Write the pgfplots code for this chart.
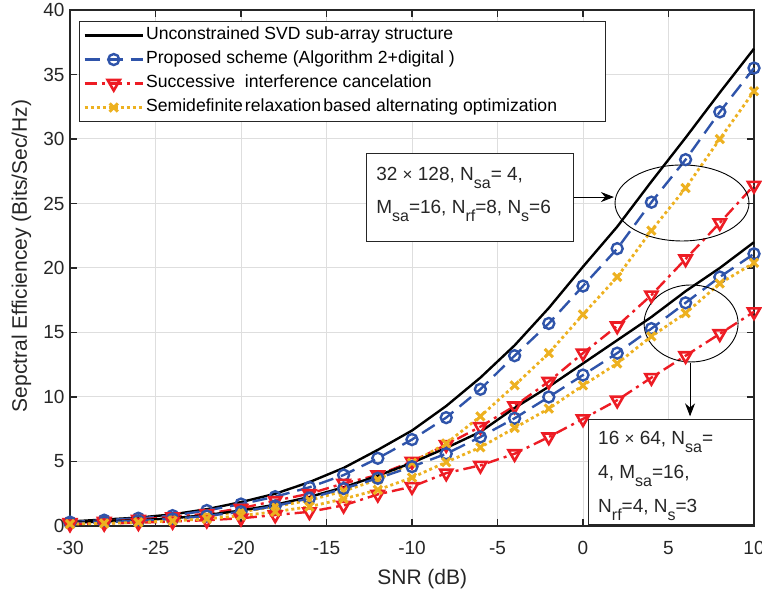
\documentclass[border=0pt]{standalone}
\usepackage{fontspec}
\setmainfont{Liberation Sans}
\usepackage{pgfplots}
\usepackage{pgfplotstable}
\pgfplotsset{compat=1.18}
\usetikzlibrary{arrows.meta}

\definecolor{mblue}{RGB}{47,84,170}
\definecolor{mred}{RGB}{237,28,36}
\definecolor{myellow}{RGB}{237,177,32}
\definecolor{axgray}{RGB}{38,38,38}
\definecolor{gridgray}{RGB}{222,222,222}

% subscript in annotation text
\newcommand{\sub}[1]{\raisebox{-8pt}{\fontsize{16}{16}\selectfont #1}}

% spectral efficiency vs SNR; A = 32x128 system, B = 16x64 system
\pgfplotstableread{
snr  svdA  propA sicA sdrA svdB propB sicB sdrB
-30  0.35  0.30  0.25 0.20 0.25 0.22 0.15 0.15
-28  0.50  0.45  0.35 0.30 0.35 0.30 0.20 0.20
-26  0.65  0.60  0.50 0.40 0.45 0.40 0.25 0.28
-24  0.90  0.80  0.70 0.55 0.60 0.55 0.35 0.40
-22  1.30  1.20  0.95 0.80 0.85 0.78 0.45 0.55
-20  1.85  1.70  1.37 1.10 1.20 1.10 0.60 0.80
-18  2.50  2.27  1.96 1.50 1.65 1.55 0.85 1.10
-16  3.40  3.00  2.50 2.00 2.25 2.15 1.10 1.50
-14  4.50  3.95  3.30 2.70 3.00 2.90 1.60 2.10
-12  5.90  5.25  3.95 3.60 3.90 3.70 2.45 2.80
-10  7.40  6.70  5.00 4.90 4.90 4.60 3.05 3.75
-8   9.30  8.40  6.30 6.40 6.05 5.60 4.10 4.95
-6   11.5  10.6  7.70 8.50 7.30 6.90 4.70 6.10
-4   14.0  13.2  9.30 10.9 9.15 8.35 5.60 7.60
-2   16.9  15.7  11.2 13.4 10.8 10.0 6.90 9.10
0    20.1  18.6  13.4 16.4 12.6 11.7 8.30 10.9
2    23.2  21.5  15.5 19.3 14.4 13.4 9.75 12.6
4    26.7  25.1  17.9 22.9 16.2 15.3 11.5 14.7
6    30.1  28.4  20.7 26.2 18.2 17.3 13.2 16.5
8    33.6  32.1  23.5 30.0 20.0 19.3 14.9 18.8
10   37.0  35.5  26.4 33.7 22.0 21.1 16.6 20.4
}\setable

\pgfplotsset{
  svdstyle/.style={black, line width=2.4pt, solid, mark=none},
  propstyle/.style={mblue, line width=2.4pt, dash pattern=on 15pt off 8pt,
    mark=o, mark size=5.5pt, mark options={solid, line width=2.4pt}},
  sicstyle/.style={mred, line width=2.4pt, dash pattern=on 12pt off 5pt on 3pt off 5pt,
    mark=triangle, mark size=7pt, mark options={solid, rotate=180, line width=2.6pt}},
  sdrstyle/.style={myellow, line width=2.8pt, dash pattern=on 3pt off 3pt,
    mark=x, mark size=5.8pt, mark options={solid, line width=3pt}},
}

\begin{document}
\begin{tikzpicture}
\begin{axis}[
  name=ax,
  scale only axis,
  width=684pt, height=516pt,
  xmin=-30, xmax=10, ymin=0, ymax=40,
  xtick={-30,-25,...,10}, ytick={0,5,...,40},
  tick align=inside, major tick length=7pt,
  axis line style={axgray, line width=1.1pt},
  tick style={axgray, line width=1.1pt},
  grid=major,
  major grid style={gridgray, line width=1pt},
  clip=false,
  /pgf/number format/assume math mode=true,
  ticklabel style={font=\fontsize{19}{22}\selectfont, text=axgray},
  xticklabel style={anchor=base, yshift=-29pt},
  yticklabel style={xshift=-2pt},
  xlabel={SNR (dB)},
  ylabel={Sepctral Efficiencey (Bits/Sec/Hz)},
  every axis x label/.style={at={(rel axis cs:0.515,-0.1143)}, anchor=base,
    font=\fontsize{21}{24}\selectfont, text=axgray},
  every axis y label/.style={at={(rel axis cs:-0.0629,0.523)}, rotate=90, anchor=base,
    font=\fontsize{21}{24}\selectfont, text=axgray},
  legend cell align=left,
  legend image code/.code={%
    \draw[mark repeat=2, mark phase=2, #1] plot coordinates {(0pt,0pt) (29pt,0pt) (58pt,0pt)};},
  legend style={
    at={(rel axis cs:0.013,0.978)}, anchor=north west,
    draw=axgray, line width=0.9pt, fill=white,
    font=\fontsize{17.6}{19}\selectfont, text=black,
    inner sep=4pt, row sep=4.5pt,
    nodes={inner sep=2pt, text height=12pt, text depth=3.5pt},
  },
]
\addplot[svdstyle]  table[x=snr, y=svdA]  {\setable};
\addplot[propstyle] table[x=snr, y=propA] {\setable};
\addplot[sicstyle]  table[x=snr, y=sicA]  {\setable};
\addplot[sdrstyle]  table[x=snr, y=sdrA]  {\setable};
\addplot[svdstyle,  forget plot] table[x=snr, y=svdB]  {\setable};
\addplot[propstyle, forget plot] table[x=snr, y=propB] {\setable};
\addplot[sicstyle,  forget plot] table[x=snr, y=sicB]  {\setable};
\addplot[sdrstyle,  forget plot] table[x=snr, y=sdrB]  {\setable};
\legend{Unconstrained SVD sub-array structure,
        Proposed scheme (Algorithm 2+digital ),
        Successive\ \ interference cancelation,
        Semidefinite\hspace{2pt}relaxation\hspace{2pt}based alternating optimization\rule{42pt}{0pt}}

% 32 x 128 annotation
\draw[black, line width=0.9pt] (axis cs:5.79,25.04) ellipse [x radius=67pt, y radius=38pt];
\draw[axgray, line width=0.9pt, fill=white] (axis cs:-12.69,28.91) rectangle (axis cs:-0.53,22.09);
\draw[black, line width=0.9pt, -{Stealth[length=13pt, width=10pt]}] (axis cs:-0.53,25.5) -- (axis cs:1.81,25.5);
\node[anchor=base west, inner sep=0pt, font=\fontsize{19}{22}\selectfont, text=axgray]
  at (axis cs:-12.1,26.82) {32 {\fontsize{17}{17}\selectfont×} 128, N\sub{sa}= 4,};
\node[anchor=base west, inner sep=0pt, font=\fontsize{19}{22}\selectfont, text=axgray]
  at (axis cs:-12.1,24.26) {M\sub{sa}=16, N\sub{rf}=8, N\sub{s}=6};

% 16 x 64 annotation
\draw[black, line width=0.9pt] (axis cs:6.32,15.7) ellipse [x radius=47pt, y radius=38.5pt];
\draw[black, line width=0.9pt, -{Stealth[length=13pt, width=10pt]}] (axis cs:6.26,12.67) -- (axis cs:6.26,8.5);
\draw[axgray, line width=0.9pt, fill=white] (axis cs:0.29,8.29) rectangle (axis cs:9.94,0.155);
\node[anchor=base west, inner sep=0pt, font=\fontsize{19}{22}\selectfont, text=axgray]
  at (axis cs:0.877,6.28) {16 {\fontsize{17}{17}\selectfont×} 64, N\sub{sa}=};
\node[anchor=base west, inner sep=0pt, font=\fontsize{19}{22}\selectfont, text=axgray]
  at (axis cs:0.877,3.72) {4, M\sub{sa}=16,};
\node[anchor=base west, inner sep=0pt, font=\fontsize{19}{22}\selectfont, text=axgray]
  at (axis cs:0.877,1.085) {N\sub{rf}=4, N\sub{s}=3};
\end{axis}
\pgfresetboundingbox
\path ([xshift=-70pt,yshift=-67pt]ax.south west) rectangle ([xshift=8pt,yshift=10pt]ax.north east);
\end{tikzpicture}
\end{document}
